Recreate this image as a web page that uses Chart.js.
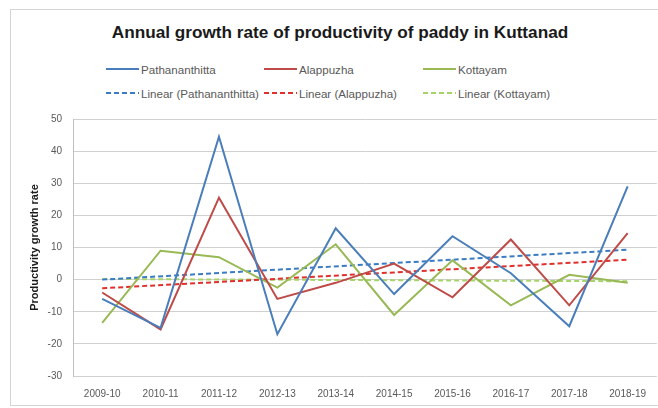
<!DOCTYPE html>
<html>
<head>
<meta charset="utf-8">
<script src="https://cdn.jsdelivr.net/npm/chart.js@4/dist/chart.umd.min.js"></script>
<style>
  html, body { margin: 0; padding: 0; background: #fff; overflow: hidden; }
  body { width: 658px; height: 408px; position: relative; font-family: "Liberation Sans", Arial, sans-serif; }
  #frame { position: absolute; left: 10px; top: 9px; width: 660px; height: 395px; border: 1px solid #d4d4d4; }
  #title { position: absolute; left: 40px; width: 600px; top: 22px; text-align: center;
           font-weight: bold; font-size: 17.2px; color: #1a1a1a; white-space: nowrap; }
  #legend { position: absolute; left: 106px; top: 61px; display: grid;
            grid-template-columns: 158px 159px 160px; row-gap: 8px; }
  .item { display: flex; align-items: center; height: 16px; font-size: 11.6px; color: #595959; white-space: nowrap; }
  .item svg { margin-right: 2px; }
  #wrap { position: absolute; left: 0; top: 0; width: 658px; height: 408px; }
</style>
</head>
<body>
<div id="frame"></div>
<div id="title">Annual growth rate of productivity of paddy in Kuttanad</div>
<div id="legend"></div>
<div id="wrap"><canvas id="chart"></canvas></div>
<script>
// ---------- DATA ----------
const years = ["2009-10", "2010-11", "2011-12", "2012-13", "2013-14", "2014-15", "2015-16", "2016-17", "2017-18", "2018-19"];

const pathanamthitta = [-6, -15, 44.5, -17, 16, -4.5, 13.5, 2, -14.5, 29];
const alappuzha = [-4, -15.5, 25.5, -6, -1, 5, -5.5, 12.5, -8, 14.5];
const kottayam = [-13.5, 9, 7, -2.5, 11, -11, 6, -8, 1.5, -1];

// trend lines: only the two end values
const trendPathanamthitta = [0, null, null, null, null, null, null, null, null, 9.3];
const trendAlappuzha = [-2.7, null, null, null, null, null, null, null, null, 6.2];
const trendKottayam = [0.2, null, null, null, null, null, null, null, null, -0.5];

const yTicks = [50, 40, 30, 20, 10, 0, -10, -20, -30];

// ---------- COLORS ----------
const COLORS = {
  blue: "#4a7ebb",
  red: "#be4b48",
  green: "#98b954",
  blueTrend: "#3a7cc4",
  redTrend: "#e0302c",
  greenTrend: "#a6d46a",
  grid: "#d0d0d0",
  ticks: "#595959"
};

const series = [
  { label: "Pathananthitta", data: pathanamthitta, color: COLORS.blue, dash: [] },
  { label: "Alappuzha", data: alappuzha, color: COLORS.red, dash: [] },
  { label: "Kottayam", data: kottayam, color: COLORS.green, dash: [] },
  { label: "Linear (Pathananthitta)", data: trendPathanamthitta, color: COLORS.blueTrend, dash: [5, 3] },
  { label: "Linear (Alappuzha)", data: trendAlappuzha, color: COLORS.redTrend, dash: [5, 3] },
  { label: "Linear (Kottayam)", data: trendKottayam, color: COLORS.greenTrend, dash: [5, 3] }
];

// ---------- LEGEND ----------
const legendEl = document.getElementById("legend");
series.forEach(s => {
  const item = document.createElement("div");
  item.className = "item";
  const dash = s.dash.length ? `stroke-dasharray="${s.dash.join(",")}"` : "";
  item.innerHTML = `<svg width="33" height="6"><line x1="0" y1="3" x2="33" y2="3" stroke="${s.color}" stroke-width="2" ${dash}/></svg><span>${s.label}</span>`;
  legendEl.appendChild(item);
});

// ---------- CHART ----------
new Chart(document.getElementById("chart"), {
  type: "line",
  data: {
    labels: years,
    datasets: series.map(s => ({
      label: s.label,
      data: s.data,
      borderColor: s.color,
      backgroundColor: s.color,
      borderWidth: 2,
      borderDash: s.dash,
      pointRadius: 0,
      tension: 0,
      spanGaps: true
    }))
  },
  options: {
    responsive: true,
    maintainAspectRatio: false,
    animation: false,
    layout: { padding: { top: 119, left: 0, right: 0, bottom: 0 } },
    plugins: {
      legend: { display: false },
      title: { display: false },
      tooltip: { enabled: false }
    },
    scales: {
      x: {
        offset: true,
        grid: { display: false, drawTicks: false },
        border: { display: false },
        ticks: { color: COLORS.ticks, font: { size: 10, family: "Liberation Sans" }, padding: 12, maxRotation: 0, autoSkip: false },
        afterFit: scale => { scale.height = 32; }
      },
      y: {
        min: -30,
        max: 50,
        afterBuildTicks: scale => { scale.ticks = yTicks.map(v => ({ value: v })); },
        grid: { color: COLORS.grid, lineWidth: 1, drawTicks: false },
        border: { display: true, color: "#bfbfbf" },
        ticks: { color: COLORS.ticks, font: { size: 10, family: "Liberation Sans" }, padding: 11 },
        title: {
          display: true,
          text: "Productivity growth rate",
          color: "#1a1a1a",
          font: { size: 11, weight: "bold", family: "Liberation Sans" },
          padding: { top: 28, bottom: 0 }
        },
        afterFit: scale => { scale.width = 73; }
      }
    }
  }
});
</script>
</body>
</html>
